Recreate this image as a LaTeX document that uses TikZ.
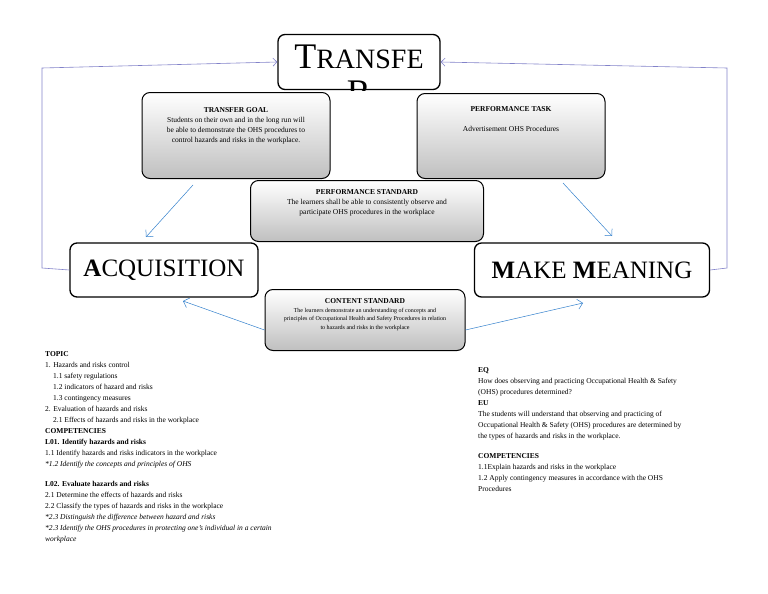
\documentclass[tikz,border=0pt]{standalone}
\usepackage{fontspec}
\setmainfont{Liberation Serif}
\usetikzlibrary{arrows.meta}
\begin{document}
\begin{tikzpicture}[x=1pt,y=-1pt,
 gbox/.style={draw=black,line width=1pt,rounded corners=8pt,top color=white,bottom color=black!25,align=center},
 wbox/.style={draw=black,line width=1.3pt,rounded corners=7pt,fill=white},
 loop/.style={draw=blue!40!gray!70,line width=0.6pt,-{Straight Barb[length=4pt]}},
 barrow/.style={draw=blue!50!cyan!60!gray,line width=0.5pt,-{Straight Barb[length=5pt]}},
 txt/.style={anchor=north west,align=left,inner sep=0pt,font=\fontsize{7.5}{11}\selectfont}]
\useasboundingbox (0,0) rectangle (768,594);
% side loops
\coordinate (la) at (42,268); \coordinate (lt) at (42,68);
\coordinate (ra) at (727,268); \coordinate (rt) at (727,68);
\node[wbox,minimum width=162,minimum height=55] (tr) at (359,62) {};
\node[wbox,minimum width=188,minimum height=54] (acq) at (164,270) {};
\node[wbox,minimum width=235,minimum height=54] (mm) at (592,270) {};
\draw[loop] (acq.west) -- (la) -- (lt) -- (tr.west);
\draw[loop] (mm.east) -- (ra) -- (rt) -- (tr.east);
\begin{scope}
\clip[rounded corners=7pt] (tr.south west) rectangle (tr.north east);
\node[font=\fontsize{36}{36}\selectfont,align=center] (trt) at (359,75) {T\fontsize{28}{36}\selectfont RANSFE\\R};
\end{scope}
\node[font=\fontsize{25}{25}\selectfont] (acqt) at (acq) {\textbf{A}CQUISITION};
\node[font=\fontsize{25}{25}\selectfont] (mmt) at (mm) {\textbf{M}AKE \textbf{M}EANING};
\node[gbox,minimum width=188,minimum height=86,anchor=north] (tg) at (236,92) {};
\node[anchor=north,align=center,font=\fontsize{7.5}{10}\selectfont] (tgt) at (236,104) {\textbf{TRANSFER GOAL}\\Students on their own and in the long run will\\be able to demonstrate the OHS procedures to\\control hazards and risks in the workplace.};
\node[gbox,minimum width=188,minimum height=85,anchor=north] (pt) at (511,93) {};
\node[anchor=north,align=center,font=\fontsize{7.5}{10}\selectfont] (ptt) at (511,103) {\textbf{PERFORMANCE TASK}\\[10pt]Advertisement OHS Procedures};
\node[gbox,minimum width=233,minimum height=61,anchor=north] (ps) at (367,180) {};
\node[anchor=north,align=center,font=\fontsize{7.5}{10}\selectfont] (pst) at (367,186) {\textbf{PERFORMANCE STANDARD}\\The learners shall be able to consistently observe and\\participate OHS procedures in the workplace};
\node[gbox,minimum width=200,minimum height=61,anchor=north] (cs) at (365,289) {};
\node[anchor=north,align=center,font=\fontsize{6}{8.5}\selectfont] (cst) at (365,295) {{\fontsize{7.5}{10}\selectfont\textbf{CONTENT STANDARD}}\\The learners demonstrate an understanding of concepts and\\principles of Occupational Health and Safety Procedures in relation\\to hazards and risks in the workplace};
\coordinate (a1) at (193,185); \coordinate (a2) at (146,237);
\coordinate (b1) at (563,183); \coordinate (b2) at (612,236);
\coordinate (c2) at (183,301); \coordinate (d2) at (583,303);
\draw[barrow] (a1) -- (a2);
\draw[barrow] (b1) -- (b2);
\draw[barrow] (cs.west|-0,330) -- (c2);
\draw[barrow] (cs.east|-0,330) -- (d2);
\node[txt] (lt1) at (45,351) {\textbf{TOPIC}\\
1. Hazards and risks control\\
\hspace*{8pt}1.1 safety regulations\\
\hspace*{8pt}1.2 indicators of hazard and risks\\
\hspace*{8pt}1.3 contingency measures\\
2. Evaluation of hazards and risks\\
\hspace*{8pt}2.1 Effects of hazards and risks in the workplace\\
\textbf{COMPETENCIES}\\
\textbf{L01. Identify hazards and risks}\\
1.1 Identify hazards and risks indicators in the workplace\\
\textit{*1.2 Identify the concepts and principles of OHS}\\[9pt]
\textbf{L02. Evaluate hazards and risks}\\
2.1 Determine the effects of hazards and risks\\
2.2 Classify the types of hazards and risks in the workplace\\
\textit{*2.3 Distinguish the difference between hazard and risks}\\
\textit{*2.3 Identify the OHS procedures in protecting one's individual in a certain}\\
\textit{workplace}};
\node[txt] (rt1) at (478,367) {\textbf{EQ}\\
How does observing and practicing Occupational Health \& Safety\\
(OHS) procedures determined?\\
\textbf{EU}\\
The students will understand that observing and practicing of\\
Occupational Health \& Safety (OHS) procedures are determined by\\
the types of hazards and risks in the workplace.\\[9pt]
\textbf{COMPETENCIES}\\
1.1Explain hazards and risks in the workplace\\
1.2 Apply contingency measures in accordance with the OHS\\
Procedures};
\end{tikzpicture}
\end{document}
